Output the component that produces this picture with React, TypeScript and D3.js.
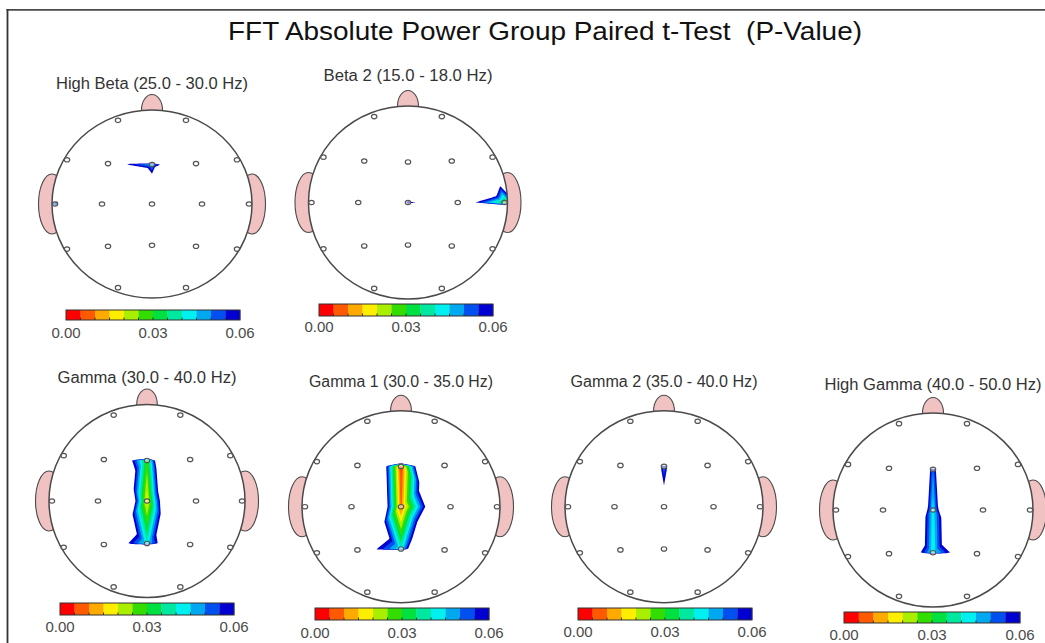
import React, { useMemo } from "react";
import * as d3 from "d3";

const MAIN_TITLE = "FFT Absolute Power Group Paired t-Test  (P-Value)";

const ELECTRODES = ["Fp1", "Fp2", "F7", "F3", "Fz", "F4", "F8", "T3", "C3", "Cz", "C4", "T4", "T5", "P3", "Pz", "P4", "T6", "O1", "O2"];
const ELECTRODE_X = [-0.34, 0.34, -0.85, -0.44, 0, 0.44, 0.85, -0.97, -0.5, 0, 0.5, 0.97, -0.85, -0.44, 0, 0.44, 0.85, -0.34, 0.34];
const ELECTRODE_Y = [-0.89, -0.89, -0.47, -0.43, -0.42, -0.43, -0.47, 0, 0, 0, 0, 0, 0.48, 0.45, 0.44, 0.45, 0.48, 0.89, 0.89];

const BAND_TITLES = [
  "High Beta (25.0 - 30.0 Hz)",
  "Beta 2 (15.0 - 18.0 Hz)",
  "Gamma (30.0 - 40.0 Hz)",
  "Gamma 1 (30.0 - 35.0 Hz)",
  "Gamma 2 (35.0 - 40.0 Hz)",
  "High Gamma (40.0 - 50.0 Hz)",
];

// p-values per electrode, order: Fp1 Fp2 F7 F3 Fz F4 F8 T3 C3 Cz C4 T4 T5 P3 Pz P4 T6 O1 O2
const P_HIGH_BETA = [0.62, 0.71, 0.34, 0.068, 0.045, 0.12, 0.45, 0.045, 0.29, 0.11, 0.38, 0.52, 0.41, 0.36, 0.47, 0.55, 0.63, 0.58, 0.69];
const P_BETA2 = [0.55, 0.48, 0.62, 0.41, 0.12, 0.31, 0.113, 0.74, 0.15, 0.0565, 0.078, 0.03, 0.66, 0.47, 0.12, 0.36, 0.85, 0.71, 0.58];
const P_GAMMA = [0.88, 0.91, 0.64, 0.12, 0.028, 0.2, 0.59, 0.71, 0.2, 0.017, 0.18, 0.66, 0.52, 0.085, 0.04, 0.12, 0.61, 0.86, 0.9];
const P_GAMMA1 = [0.89, 0.92, 0.58, 0.169, 0.004, 0.175, 0.49, 0.63, 0.2, 0.008, 0.114, 0.44, 0.55, 0.075, 0.04, 0.165, 0.52, 0.87, 0.9];
const P_GAMMA2 = [0.81, 0.77, 0.6, 0.2, 0.05, 0.2, 0.57, 0.69, 0.2, 0.071, 0.2, 0.62, 0.73, 0.45, 0.19, 0.39, 0.66, 0.84, 0.79];
const P_HIGH_GAMMA = [0.86, 0.79, 0.55, 0.22, 0.05, 0.22, 0.61, 0.47, 0.2, 0.042, 0.2, 0.52, 0.39, 0.11, 0.04, 0.09, 0.44, 0.88, 0.9];

const P_THRESHOLDS = [0.005, 0.01, 0.015, 0.02, 0.025, 0.03, 0.035, 0.04, 0.045, 0.05, 0.055, 0.06];
const BAND_COLORS = ["#ff0000", "#ff5a00", "#ffaa00", "#ffee00", "#aaee00", "#33dd00", "#00e040", "#00e8a0", "#00f0f0", "#00a8f0", "#0050f0", "#0000d0"];
const COLORBAR_TICKS = [0, 0.03, 0.06];
const COLORBAR_TICK_LABELS = ["0.00", "0.03", "0.06"];

const SERIES = [P_HIGH_BETA, P_BETA2, P_GAMMA, P_GAMMA1, P_GAMMA2, P_HIGH_GAMMA];

// mesh topology: quadrilaterals of the central F / C / P rows, plus front and back caps
const QUADS = [
  [2, 3, 8, 7], [3, 4, 9, 8], [4, 5, 10, 9], [5, 6, 11, 10],
  [7, 8, 13, 12], [8, 9, 14, 13], [9, 10, 15, 14], [10, 11, 16, 15],
];
const CAP_TRIS = [
  [0, 2, 3], [0, 3, 4], [0, 1, 4], [1, 4, 5], [1, 5, 6],
  [17, 12, 13], [17, 13, 14], [17, 18, 14], [18, 14, 15], [18, 15, 16],
];

const LAYOUT = [
  { cx: 152, cy: 204, rx: 100, ry: 94, titleY: 89, titleLen: 192, barX0: 66, barX1: 240, barY: 310, barH: 10, labelY: 338 },
  { cx: 408, cy: 202.5, rx: 99.5, ry: 96.5, titleY: 81, titleLen: 169, barX0: 319, barX1: 493, barY: 304, barH: 12, labelY: 331.5 },
  { cx: 147, cy: 501, rx: 98, ry: 96.5, titleY: 382.5, titleLen: 179, barX0: 60, barX1: 234, barY: 603, barH: 12, labelY: 631.5 },
  { cx: 401, cy: 506.7, rx: 99, ry: 96, titleY: 387, titleLen: 184, barX0: 315, barX1: 489, barY: 608, barH: 12, labelY: 638 },
  { cx: 664, cy: 506.7, rx: 99, ry: 96, titleY: 387, titleLen: 187, barX0: 578, barX1: 752, barY: 608, barH: 12, labelY: 637 },
  { cx: 933, cy: 510, rx: 100, ry: 97, titleY: 390, titleLen: 217, barX0: 844, barX1: 1020, barY: 612, barH: 11, labelY: 640 },
];

const GRID_N = 241;
const LO = -1.07;
const HI = 1.07;
const STEP = (HI - LO) / (GRID_N - 1);

type P = [number, number];

function rasterTri(grid: Float64Array, A: P, B: P, C: P, va: number, vb: number, vc: number) {
  const n = GRID_N;
  const [ax, ay] = A;
  const [bx, by] = B;
  const [qx, qy] = C;
  const det = (by - qy) * (ax - qx) + (qx - bx) * (ay - qy);
  if (Math.abs(det) < 1e-12) return;
  const i0 = Math.max(0, Math.floor((Math.min(ax, bx, qx) - LO) / STEP));
  const i1 = Math.min(n - 1, Math.ceil((Math.max(ax, bx, qx) - LO) / STEP));
  const j0 = Math.max(0, Math.floor((Math.min(ay, by, qy) - LO) / STEP));
  const j1 = Math.min(n - 1, Math.ceil((Math.max(ay, by, qy) - LO) / STEP));
  for (let j = j0; j <= j1; j++) {
    const y = LO + j * STEP;
    for (let i = i0; i <= i1; i++) {
      const x = LO + i * STEP;
      const l1 = ((by - qy) * (x - qx) + (qx - bx) * (y - qy)) / det;
      const l2 = ((qy - ay) * (x - qx) + (ax - qx) * (y - qy)) / det;
      const l3 = 1 - l1 - l2;
      if (l1 >= -1e-9 && l2 >= -1e-9 && l3 >= -1e-9) {
        grid[j * n + i] = l1 * va + l2 * vb + l3 * vc;
      }
    }
  }
}

function computeField(values: number[]): Float64Array {
  const grid = new Float64Array(GRID_N * GRID_N).fill(1);
  const ePts: P[] = ELECTRODES.map((_, i) => [ELECTRODE_X[i], ELECTRODE_Y[i]]);

  // pass 1: electrodes + outer ring (values of nearest electrode) -> covers the rim region
  const pts: P[] = ePts.slice();
  const vals: number[] = values.slice();
  const RING = 24;
  const R = 1.065;
  for (let k = 0; k < RING; k++) {
    const a = (2 * Math.PI * k) / RING;
    const x = R * Math.cos(a);
    const y = R * Math.sin(a);
    let best = 0;
    let bd = Infinity;
    ePts.forEach(([ex, ey], i) => {
      const d = (x - ex) ** 2 + (y - ey) ** 2;
      if (d < bd) {
        bd = d;
        best = i;
      }
    });
    pts.push([x, y]);
    vals.push(values[best]);
  }
  const del = d3.Delaunay.from(pts);
  const t = del.triangles;
  for (let k = 0; k < t.length; k += 3) {
    rasterTri(grid, pts[t[k]], pts[t[k + 1]], pts[t[k + 2]], vals[t[k]], vals[t[k + 1]], vals[t[k + 2]]);
  }

  // pass 2: interior mesh (quads split at their centre, plus caps)
  for (const q of QUADS) {
    const m: P = [d3.mean(q, (i) => ELECTRODE_X[i]) as number, d3.mean(q, (i) => ELECTRODE_Y[i]) as number];
    const vm = d3.mean(q, (i) => values[i]) as number;
    for (let s = 0; s < 4; s++) {
      const a = q[s];
      const b = q[(s + 1) % 4];
      rasterTri(grid, ePts[a], ePts[b], m, values[a], values[b], vm);
    }
  }
  for (const [a, b, c] of CAP_TRIS) {
    rasterTri(grid, ePts[a], ePts[b], ePts[c], values[a], values[b], values[c]);
  }
  return grid;
}

type L = (typeof LAYOUT)[number];

function Head({ idx, values, title, lay }: { idx: number; values: number[]; title: string; lay: L }) {
  const { cx, cy, rx, ry } = lay;
  const sx = d3.scaleLinear().domain([-1, 1]).range([cx - rx, cx + rx]);
  const sy = d3.scaleLinear().domain([-1, 1]).range([cy - ry, cy + ry]);

  const paths = useMemo(() => {
    const grid = computeField(values);
    const neg = Array.from(grid, (v) => -v);
    const ths = P_THRESHOLDS.map((p) => -p).sort((a, b) => a - b);
    const cs = d3.contours().size([GRID_N, GRID_N]).thresholds(ths)(neg);
    return cs.map((mp) => {
      const p = Math.round(-mp.value / 0.005) - 1;
      const d = mp.coordinates
        .map((poly) =>
          poly
            .map(
              (ring) =>
                "M" +
                ring
                  .map(([gx, gy]) => {
                    const nx = LO + (gx - 0.5) * STEP;
                    const ny = LO + (gy - 0.5) * STEP;
                    return `${sx(nx).toFixed(2)},${sy(ny).toFixed(2)}`;
                  })
                  .join("L") +
                "Z"
            )
            .join("")
        )
        .join("");
      return { d, color: BAND_COLORS[p] };
    });
  }, [values, cx, cy, rx, ry]);

  const bar = d3.scaleLinear().domain([0, 0.06]).range([lay.barX0, lay.barX1]);
  const clipId = `head-clip-${idx}`;
  const stroke = "#4a4a4a";

  return (
    <g>
      <text
        x={cx}
        y={lay.titleY}
        textAnchor="middle"
        fontFamily="'Liberation Sans', Arial, sans-serif"
        fontSize={16}
        fill="#333"
        textLength={lay.titleLen}
        lengthAdjust="spacingAndGlyphs"
      >
        {title}
      </text>
      <defs>
        <clipPath id={clipId}>
          <ellipse cx={cx} cy={cy} rx={rx} ry={ry} />
        </clipPath>
      </defs>
      <ellipse cx={cx} cy={cy - ry} rx={rx * 0.105} ry={15.5} fill="#f0c2c2" stroke={stroke} strokeWidth={1.1} />
      <ellipse cx={cx - rx} cy={cy} rx={13.5} ry={30} fill="#f0c2c2" stroke={stroke} strokeWidth={1.1} />
      <ellipse cx={cx + rx} cy={cy} rx={13.5} ry={30} fill="#f0c2c2" stroke={stroke} strokeWidth={1.1} />
      <ellipse cx={cx} cy={cy} rx={rx} ry={ry} fill="#fff" stroke="none" />
      <g clipPath={`url(#${clipId})`}>
        {paths.map((p, i) => (
          <path key={i} d={p.d} fill={p.color} fillRule="evenodd" stroke="none" />
        ))}
      </g>
      <ellipse cx={cx} cy={cy} rx={rx} ry={ry} fill="none" stroke={stroke} strokeWidth={1.5} />
      {ELECTRODES.map((name, i) => (
        <ellipse
          key={name}
          cx={sx(ELECTRODE_X[i])}
          cy={sy(ELECTRODE_Y[i])}
          rx={2.7}
          ry={2.2}
          fill="#fff"
          fillOpacity={0.5}
          stroke="#555"
          strokeWidth={1.2}
        />
      ))}
      {BAND_COLORS.map((c, k) => (
        <rect
          key={k}
          x={bar(P_THRESHOLDS[k] - 0.005)}
          y={lay.barY}
          width={bar(P_THRESHOLDS[k]) - bar(P_THRESHOLDS[k] - 0.005) + 0.3}
          height={lay.barH}
          fill={c}
        />
      ))}
      <rect x={lay.barX0} y={lay.barY} width={lay.barX1 - lay.barX0} height={lay.barH} fill="none" stroke="#333" strokeWidth={1} />
      {P_THRESHOLDS.slice(0, -1).map((p, k) => (
        <line key={k} x1={bar(p)} x2={bar(p)} y1={lay.barY + lay.barH} y2={lay.barY + lay.barH - 2.5} stroke="#333" strokeWidth={1} />
      ))}
      {COLORBAR_TICKS.map((tv, k) => (
        <text
          key={k}
          x={bar(tv)}
          y={lay.labelY}
          textAnchor="middle"
          fontFamily="'Liberation Sans', Arial, sans-serif"
          fontSize={15}
          fill="#4a4a4a"
        >
          {COLORBAR_TICK_LABELS[k]}
        </text>
      ))}
    </g>
  );
}

export default function App() {
  return (
    <svg
      width={1045}
      height={643}
      viewBox="0 0 1045 643"
      style={{ position: "absolute", left: 0, top: 0, background: "#fff" }}
    >
      <rect x={0} y={0} width={1045} height={643} fill="#fff" />
      <line x1={6.5} x2={1045} y1={9.8} y2={9.8} stroke="#4a4a4a" strokeWidth={1.8} />
      <line x1={7.5} x2={7.5} y1={9} y2={643} stroke="#333" strokeWidth={1.8} />
      <text
        x={545}
        y={40}
        textAnchor="middle"
        fontFamily="'Liberation Sans', Arial, sans-serif"
        fontSize={26.5}
        fill="#111"
        textLength={634}
        lengthAdjust="spacingAndGlyphs"
        style={{ whiteSpace: "pre" }}
      >
        {MAIN_TITLE}
      </text>
      {SERIES.map((vals, i) => (
        <Head key={i} idx={i} values={vals} title={BAND_TITLES[i]} lay={LAYOUT[i]} />
      ))}
    </svg>
  );
}
